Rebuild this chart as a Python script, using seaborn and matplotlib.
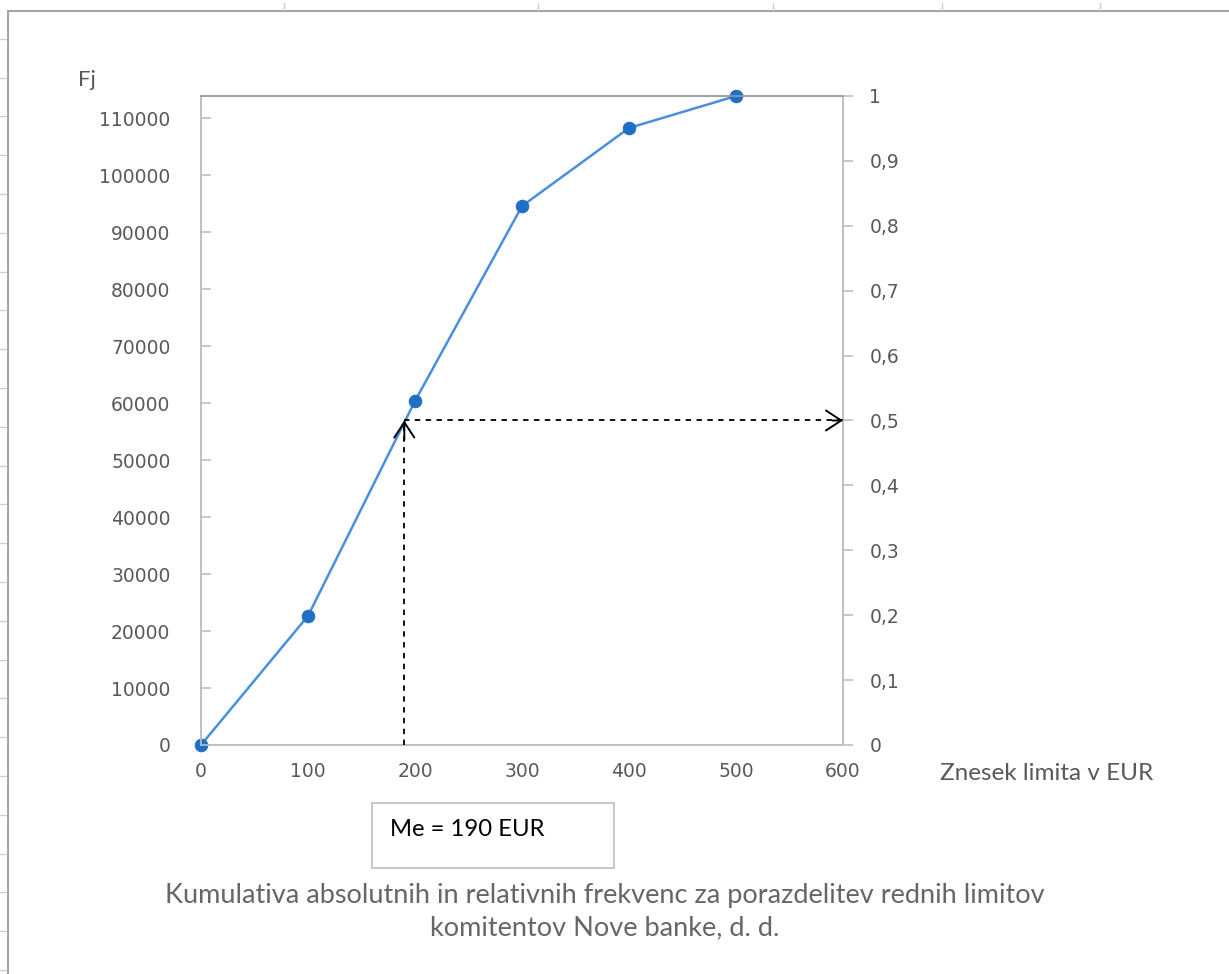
import matplotlib
matplotlib.use("Agg")
import matplotlib.pyplot as plt
import seaborn as sns
import pandas as pd
from matplotlib.lines import Line2D
from matplotlib.patches import Rectangle

# cumulative frequencies
limits = [0, 100, 200, 300, 400, 500]
Fj = [0, 22650, 60350, 94550, 108250, 113860]
N = 113860
median = 190
x_ticks = [0, 100, 200, 300, 400, 500, 600]
left_ticks = list(range(0, 110001, 10000))
right_ticks = [i / 10 for i in range(11)]

df = pd.DataFrame({"limit": limits, "Fj": Fj})

sns.set_style("white")
plt.rcParams['font.family'] = ['DejaVu Sans']

grey = '#595959'
axis_grey = '#bfbfbf'

fig = plt.figure(figsize=(12.29, 9.74), dpi=100)
ax = fig.add_axes([201 / 1229, 1 - 745 / 974, 642 / 1229, 649 / 974])

sns.lineplot(data=df, x="limit", y="Fj", ax=ax, color='#4a8fdf', linewidth=1.8,
             marker='o', markersize=9, markerfacecolor='#1f6fc5', markeredgecolor='#1f6fc5',
             clip_on=False, zorder=5)

ax.set_xlim(0, 600)
ax.set_ylim(0, N)
ax.set_xticks(x_ticks)
ax.set_yticks(left_ticks)
ax.set_xlabel('')
ax.set_ylabel('')
ax.tick_params(axis='x', colors=grey, labelsize=13.5, length=0, pad=12)
ax.tick_params(axis='y', direction='in', length=7, width=1.2, color=axis_grey,
               labelcolor=grey, labelsize=13.5, pad=22)
for s in ax.spines.values():
    s.set_color(axis_grey)
    s.set_linewidth(1.2)

ax2 = ax.twinx()
ax2.set_ylim(0, 1)
ax2.set_yticks(right_ticks)
ax2.set_yticklabels([('%g' % t).replace('.', ',') for t in right_ticks])
ax2.tick_params(axis='y', length=7, width=1.2, pad=12, color=axis_grey,
                labelcolor=grey, labelsize=13.5)
for s in ax2.spines.values():
    s.set_color(axis_grey)
    s.set_linewidth(1.2)
ax2.spines['top'].set_color('#9a9a9a')

# median guide lines: dashed shafts plus open arrowheads
dash = dict(color='black', lw=1.3, linestyle=(0, (3, 3)))
ax2.plot([median, median], [0, 0.5], **dash, zorder=3)
ax2.plot([median, 600], [0.5, 0.5], **dash, zorder=3)
head = dict(arrowstyle='->,head_length=0.55,head_width=0.36', color='black', lw=1.4,
            shrinkA=0, shrinkB=0, mutation_scale=20)
ax2.annotate('', xy=(median, 0.5), xytext=(median, 0.47), arrowprops=head)
ax2.annotate('', xy=(600, 0.5), xytext=(590, 0.5), arrowprops=head)

fig.text(78 / 1229, 1 - 80 / 974, 'Fj', fontsize=16, color=grey, family='Lato', va='center')
fig.text(940 / 1229, 1 - 773 / 974, 'Znesek limita v EUR', fontsize=17.5, color=grey,
         family='Lato', va='center')

# median box
fig.add_artist(Rectangle((372 / 1229, 1 - 868 / 974), 242 / 1229, 65 / 974,
                         transform=fig.transFigure, facecolor='white',
                         edgecolor='#bfbfbf', linewidth=1.2))
fig.text(390 / 1229, 1 - 830 / 974, 'Me = 190 EUR', fontsize=17.2, color='black',
         family='Lato', va='center')

fig.text(605 / 1229, 1 - 912 / 974,
         'Kumulativa absolutnih in relativnih frekvenc za porazdelitev rednih limitov\n'
         'komitentov Nove banke, d. d.',
         fontsize=19.5, color='#666666', family='Lato', ha='center', va='center',
         linespacing=1.35)

# spreadsheet frame around the chart
fig.add_artist(Line2D([8 / 1229, 1], [1 - 11 / 974, 1 - 11 / 974], transform=fig.transFigure,
                      color='#a6a6a6', lw=1.5))
fig.add_artist(Line2D([8 / 1229, 8 / 1229], [0, 1 - 11 / 974], transform=fig.transFigure,
                      color='#a6a6a6', lw=1.5))
for xp in [284, 538, 773, 942, 1100]:
    fig.add_artist(Line2D([xp / 1229, xp / 1229], [1 - 10 / 974, 1 - 3 / 974],
                          transform=fig.transFigure, color='#d0d0d0', lw=1))
for i in range(25):
    yp = 38.8 + i * 38.8
    fig.add_artist(Line2D([0, 6 / 1229], [1 - yp / 974, 1 - yp / 974],
                          transform=fig.transFigure, color='#d0d0d0', lw=1))

fig.savefig('out.png', dpi=100, facecolor='white')
